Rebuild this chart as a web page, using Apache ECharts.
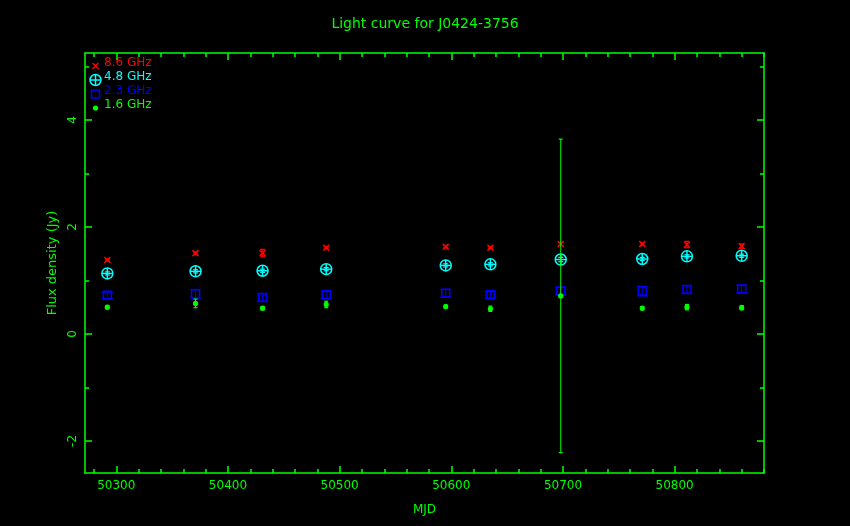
<!DOCTYPE html>
<html>
<head>
<meta charset="utf-8">
<script src="https://cdn.jsdelivr.net/npm/echarts@6/dist/echarts.min.js"></script>
<style>
html,body{margin:0;padding:0;background:#000;}
#chart{width:850px;height:526px;}
</style>
</head>
<body>
<div id="chart"></div>
<script>
// ---- data ----
var mjd    = [50292, 50371, 50431, 50488, 50595, 50635, 50698, 50771, 50811, 50860];
var flux86 = [1.38, 1.51, 1.51, 1.61, 1.63, 1.61, 1.68, 1.68, 1.67, 1.64];
var err86  = [0.02, 0.02, 0.07, 0.02, 0.02, 0.02, 0.03, 0.02, 0.06, 0.04];
var flux48 = [1.13, 1.17, 1.18, 1.21, 1.28, 1.30, 1.39, 1.40, 1.45, 1.46];
var err48  = [0.03, 0.03, 0.03, 0.03, 0.03, 0.03, 0.04, 0.03, 0.03, 0.03];
var flux23 = [0.72, 0.75, 0.68, 0.73, 0.76, 0.73, 0.80, 0.80, 0.83, 0.84];
var err23  = [0.06, 0.08, 0.07, 0.07, 0.07, 0.06, 0.07, 0.09, 0.07, 0.07];
var flux16 = [0.50, 0.57, 0.48, 0.55, 0.51, 0.47, 0.71, 0.48, 0.50, 0.49];
var err16  = [0.03, 0.08, 0.03, 0.06, 0.03, 0.05, 2.93, 0.03, 0.05, 0.04];
var seriesNames = ['8.6 GHz', '4.8 GHz', '2.3 GHz', '1.6 GHz'];
var xMajor = [50300, 50400, 50500, 50600, 50700, 50800];
var xMinor = [50280, 50320, 50340, 50360, 50380, 50420, 50440, 50460, 50480, 50520, 50540, 50560, 50580,
              50620, 50640, 50660, 50680, 50720, 50740, 50760, 50780, 50820, 50840, 50860, 50880];
var yMajor = [-2, 0, 2, 4];
var yMinor = [-1, 1, 3, 5];
var titleText = 'Light curve for J0424-3756';
var xName = 'MJD';
var yName = 'Flux density (Jy)';

// ---- style ----
var GREEN = '#00ff00', RED = '#ff0000', CYAN = '#00ffff', BLUE = '#0000ff';
var FONT = 'DejaVu Sans';
var XMIN = 50272, XMAX = 50880, YMIN = -2.6, YMAX = 5.25;

function crossShape(cx, cy, c) {
  var d = 3;
  return [
    {type:'line', shape:{x1:cx-d,y1:cy-d,x2:cx+d,y2:cy+d}, style:{stroke:c,lineWidth:1.5}},
    {type:'line', shape:{x1:cx-d,y1:cy+d,x2:cx+d,y2:cy-d}, style:{stroke:c,lineWidth:1.5}}
  ];
}
function circlePlusShape(cx, cy, c) {
  var r = 5.5;
  return [
    {type:'circle', shape:{cx:cx,cy:cy,r:r}, style:{stroke:c,fill:null,lineWidth:1.5}},
    {type:'line', shape:{x1:cx-r,y1:cy,x2:cx+r,y2:cy}, style:{stroke:c,lineWidth:1.5}},
    {type:'line', shape:{x1:cx,y1:cy-r,x2:cx,y2:cy+r}, style:{stroke:c,lineWidth:1.5}}
  ];
}
function squareShape(cx, cy, c) {
  var h = 4;
  return [
    {type:'rect', shape:{x:cx-h,y:cy-h,width:2*h,height:2*h}, style:{stroke:c,fill:null,lineWidth:1.5}}
  ];
}
function dotShape(cx, cy, c) {
  return [
    {type:'circle', shape:{cx:cx,cy:cy,r:2.6}, style:{fill:c,stroke:null}}
  ];
}
var shapes = [crossShape, circlePlusShape, squareShape, dotShape];
var colors = [RED, CYAN, BLUE, GREEN];
var fluxes = [flux86, flux48, flux23, flux16];
var errs = [err86, err48, err23, err16];
var capW = [2.5, 2.5, 5.5, 2];

function makeRender(k) {
  return function (params, api) {
    var x = api.value(0), y = api.value(1), e = api.value(2);
    var p = api.coord([x, y]);
    var pt = api.coord([x, y + e]);
    var pb = api.coord([x, y - e]);
    var c = colors[k], w = capW[k];
    var children = [
      {type:'line', shape:{x1:p[0],y1:pt[1],x2:p[0],y2:pb[1]}, style:{stroke:c,lineWidth:1}},
      {type:'line', shape:{x1:p[0]-w,y1:pt[1],x2:p[0]+w,y2:pt[1]}, style:{stroke:c,lineWidth:1.2}},
      {type:'line', shape:{x1:p[0]-w,y1:pb[1],x2:p[0]+w,y2:pb[1]}, style:{stroke:c,lineWidth:1.2}}
    ].concat(shapes[k](p[0], p[1], c));
    return {type:'group', children: children};
  };
}

var series = [];
for (var k = 3; k >= 0; k--) {
  var d = [];
  for (var i = 0; i < mjd.length; i++) d.push([mjd[i], fluxes[k][i], errs[k][i]]);
  series.push({
    type:'custom', name: seriesNames[k], coordinateSystem:'cartesian2d',
    xAxisIndex:0, yAxisIndex:0, data:d, renderItem: makeRender(k), clip:false, z: 10 + k
  });
}

// legend built as graphic elements
var legendGraphics = [];
var legY = [64, 78, 92, 106];
for (var j = 0; j < 4; j++) {
  var mk = shapes[j](95.5, legY[j] + 2, colors[j]);
  legendGraphics = legendGraphics.concat(mk);
  legendGraphics.push({type:'text', left:104, top: legY[j] - 7,
    style:{text: seriesNames[j], fill: colors[j], font: '12px "DejaVu Sans"'}});
}

function plainFmt(v) { return String(v); }

function xAx(pos, major, showLine, showLabel) {
  return {
    type:'value', position:pos, min:XMIN, max:XMAX, scale:true,
    name: showLabel ? xName : '', nameLocation:'middle', nameGap: 31,
    nameTextStyle:{color:GREEN, fontFamily:FONT, fontSize:12},
    axisLine:{show:showLine, onZero:false, lineStyle:{color:GREEN, width:1.5}},
    axisTick:{show:true, inside:true, length: major ? 7 : 4, customValues: major ? xMajor : xMinor,
      lineStyle:{color:GREEN, width:1.5}},
    axisLabel:{show:showLabel, customValues:xMajor, formatter: plainFmt, color:GREEN, fontFamily:FONT, fontSize:12, margin:7},
    splitLine:{show:false}, minorTick:{show:false}
  };
}
function yAx(pos, major, showLine, showLabel) {
  return {
    type:'value', position:pos, min:YMIN, max:YMAX, scale:true,
    name: showLabel ? yName : '', nameLocation:'middle', nameGap: 23, nameRotate: 90,
    nameTextStyle:{color:GREEN, fontFamily:FONT, fontSize:13},
    axisLine:{show:showLine, onZero:false, lineStyle:{color:GREEN, width:1.5}},
    axisTick:{show:true, inside:true, length: major ? 7 : 4, customValues: major ? yMajor : yMinor,
      lineStyle:{color:GREEN, width:1.5}},
    axisLabel:{show:showLabel, customValues:yMajor, formatter: plainFmt, rotate:90, color:GREEN, fontFamily:FONT, fontSize:12, margin:6},
    splitLine:{show:false}, minorTick:{show:false}
  };
}

var chart = echarts.init(document.getElementById('chart'), null, {renderer:'canvas'});
chart.setOption({
  backgroundColor:'#000',
  animation:false,
  title:{text:titleText, left:'center', top:12,
    textStyle:{color:GREEN, fontFamily:FONT, fontSize:14, fontWeight:'normal'}},
  grid:{left:85, right:86, top:53, bottom:53, containLabel:false},
  xAxis:[xAx('bottom', true, true, true), xAx('bottom', false, false, false),
         xAx('top', true, true, false), xAx('top', false, false, false)],
  yAxis:[yAx('left', true, true, true), yAx('left', false, false, false),
         yAx('right', true, true, false), yAx('right', false, false, false)],
  graphic: legendGraphics,
  series: series
});
</script>
</body>
</html>
